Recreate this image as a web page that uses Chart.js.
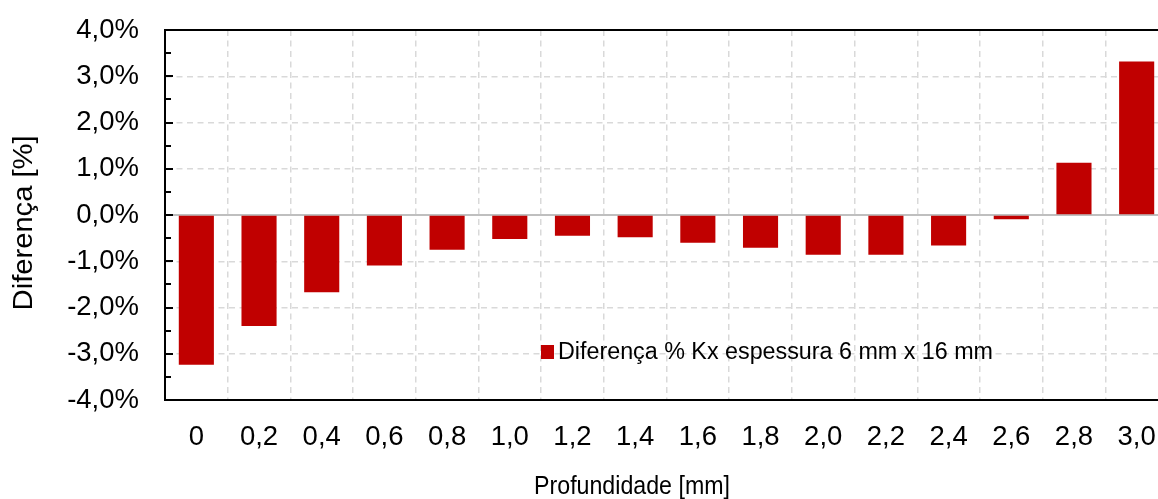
<!DOCTYPE html>
<html>
<head>
<meta charset="utf-8">
<script src="https://cdn.jsdelivr.net/npm/chart.js@4.4.1/dist/chart.umd.min.js"></script>
<style>
  html, body { margin: 0; padding: 0; background: #fff; overflow: hidden; }
  #wrap { width: 1158px; height: 499px; overflow: hidden; position: relative; }
  canvas { display: block; }
</style>
</head>
<body>
<div id="wrap"><canvas id="c" width="1168" height="499"></canvas></div>
<script>
// ---- Data ----
const categories = ['0','0,2','0,4','0,6','0,8','1,0','1,2','1,4','1,6','1,8','2,0','2,2','2,4','2,6','2,8','3,0'];
const diffValues = [-3.24, -2.40, -1.67, -1.09, -0.75, -0.52, -0.45, -0.48, -0.60, -0.71, -0.86, -0.86, -0.66, -0.09, 1.13, 3.32];
const seriesLabel = 'Diferença % Kx espessura 6 mm x 16 mm';
const yTickValues = [-4, -3, -2, -1, 0, 1, 2, 3, 4];
const xTitle = 'Profundidade [mm]';
const yTitle = 'Diferença [%]';

const FONT = "'Liberation Sans', Arial, sans-serif";
const BAR = '#C00000';

const decorPlugin = {
  id: 'decor',
  beforeDatasetsDraw(chart) {
    const { ctx, chartArea, scales } = chart;
    const y = scales.y;
    const y0 = y.getPixelForValue(0);
    ctx.save();
    ctx.strokeStyle = '#bfbfbf';
    ctx.lineWidth = 2;
    ctx.beginPath();
    ctx.moveTo(chartArea.left, y0);
    ctx.lineTo(chartArea.right, y0);
    ctx.stroke();
    ctx.restore();
  },
  afterDatasetsDraw(chart) {
    const { ctx, chartArea, scales } = chart;
    const y = scales.y;
    ctx.save();
    ctx.strokeStyle = '#000';
    ctx.lineWidth = 2;
    ctx.beginPath();
    ctx.moveTo(chartArea.left, chartArea.top);
    ctx.lineTo(chartArea.right, chartArea.top);
    ctx.stroke();
    for (let v = y.min; v <= y.max + 1e-9; v += 0.5) {
      const p = Math.round(y.getPixelForValue(v));
      const isMajor = Math.abs(v - Math.round(v)) < 1e-9;
      ctx.beginPath();
      ctx.moveTo(chartArea.left, p);
      ctx.lineTo(chartArea.left + (isMajor ? 8 : 6), p);
      ctx.stroke();
    }
    ctx.restore();
  },
  afterDraw(chart) {
    const { ctx, chartArea, scales } = chart;
    const ds = chart.data.datasets[0];
    const lx = chartArea.left + 376, ly = chartArea.top + 323;
    ctx.save();
    ctx.fillStyle = ds.backgroundColor;
    ctx.fillRect(lx, ly - 8, 13, 14);
    ctx.fillStyle = '#000';
    ctx.font = '23.3px ' + FONT;
    ctx.textBaseline = 'middle';
    ctx.textAlign = 'left';
    ctx.fillText(ds.label, lx + 17, ly);
    ctx.restore();
    // x axis title (slightly condensed)
    ctx.save();
    ctx.fillStyle = '#000';
    ctx.textBaseline = 'middle';
    ctx.textAlign = 'center';
    ctx.font = '26.5px ' + FONT;
    ctx.translate(632, 487);
    ctx.scale(0.875, 1);
    ctx.fillText(xTitle, 0, 0);
    ctx.restore();
    // y axis title
    ctx.save();
    ctx.fillStyle = '#000';
    ctx.textBaseline = 'middle';
    ctx.textAlign = 'center';
    ctx.font = '27px ' + FONT;
    ctx.translate(25, scales.y.getPixelForValue(-0.17));
    ctx.rotate(-Math.PI / 2);
    ctx.scale(1.08, 1);
    ctx.fillText(yTitle, 0, 0);
    ctx.restore();
  }
};

new Chart(document.getElementById('c'), {
  type: 'bar',
  data: {
    labels: categories,
    datasets: [{
      label: seriesLabel,
      data: diffValues,
      backgroundColor: BAR,
      borderWidth: 0,
      categoryPercentage: 1.0,
      barPercentage: 0.56
    }]
  },
  options: {
    responsive: false,
    animation: false,
    devicePixelRatio: 1,
    layout: { padding: { top: 30, left: 0, right: 0, bottom: 0 } },
    plugins: {
      legend: { display: false },
      tooltip: { enabled: false }
    },
    scales: {
      x: {
        offset: true,
        grid: { display: true, offset: true, color: '#d9d9d9', lineWidth: 1.5, drawTicks: false },
        border: { display: true, color: '#000', width: 2, dash: [6, 4.5] },
        ticks: { color: '#000', font: { family: FONT, size: 27.5 }, padding: 21, maxRotation: 0, autoSkip: false },
        title: { display: false },
        afterFit(scale) { scale.height = 99; scale.paddingLeft = 0; scale.paddingRight = 0; }
      },
      y: {
        min: -4, max: 4,
        afterBuildTicks(scale) { scale.ticks = yTickValues.map(v => ({ value: v })); },
        grid: { color: '#d9d9d9', lineWidth: 1.5, drawTicks: false },
        border: { display: true, color: '#000', width: 2, dash: [6, 4.5] },
        ticks: {
          color: '#000', font: { family: FONT, size: 27.5 }, padding: 26,
          callback: v => v.toFixed(1).replace('.', ',') + '%'
        },
        title: { display: false },
        afterFit(scale) { scale.width = 165; scale.paddingTop = 0; scale.paddingBottom = 0; }
      }
    }
  },
  plugins: [decorPlugin]
});
</script>
</body>
</html>
